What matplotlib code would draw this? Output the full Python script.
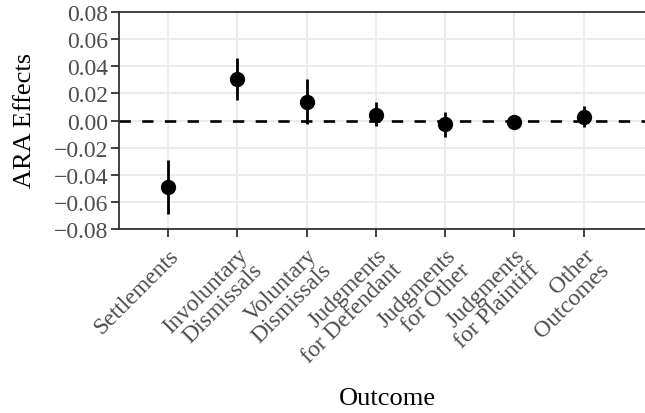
import matplotlib
matplotlib.use("Agg")
import matplotlib.pyplot as plt

plt.rcParams.update({"font.family": ["Liberation Serif", "DejaVu Serif"],
                     "axes.unicode_minus": True})

# ARA effect estimates by case outcome, with 95% intervals
OUTCOMES = ["Settlements", "Involuntary\nDismissals", "Voluntary\nDismissals",
            "Judgments\nfor Defendant", "Judgments\nfor Other",
            "Judgments\nfor Plaintiff", "Other\nOutcomes"]
EFFECT = [-0.0493, 0.0306, 0.0139, 0.0043, -0.0028, -0.0009, 0.0026]
LOWER = [-0.0690, 0.0154, -0.0026, -0.0043, -0.0120, -0.0030, -0.0050]
UPPER = [-0.0292, 0.0459, 0.0306, 0.0134, 0.0060, 0.0012, 0.0105]
YTICKS = [-0.08, -0.06, -0.04, -0.02, 0.00, 0.02, 0.04, 0.06, 0.08]

GRID = "#EBEBEB"
DARK = "#333333"
TXT = "#4D4D4D"

fig = plt.figure(figsize=(6.45, 4.14), dpi=100)
# panel runs off the right edge, as in the cropped original
ax = fig.add_axes([119 / 645, 1 - 230 / 414, 532 / 645, 217 / 414])

xs = list(range(1, len(OUTCOMES) + 1))
ax.axhline(0, color="black", lw=1.9, linestyle=(0, (4.3, 4.3)), zorder=2)
ax.vlines(xs, LOWER, UPPER, color="black", lw=2.0, zorder=3)
ax.plot(xs, EFFECT, "o", color="black", ms=10, zorder=4)

ax.set_xlim(0.293, 7.97)
ax.set_ylim(-0.08, 0.08)
ax.set_yticks(YTICKS)
ax.set_yticklabels([f"{v:.2f}".replace("-", "\u2212") for v in YTICKS])
ax.set_xticks(xs)
ax.set_xticklabels(OUTCOMES, rotation=45, ha="right", rotation_mode="anchor",
                   multialignment="right", linespacing=0.97)

ax.grid(True, color=GRID, lw=1.4, zorder=0)
ax.set_axisbelow(True)
for s in ax.spines.values():
    s.set_color(DARK)
    s.set_linewidth(1.3)
ax.tick_params(colors=DARK, labelcolor=TXT, labelsize=17, length=5.5, width=1.3, pad=2)
ax.tick_params(axis="x", pad=5.5)

ax.set_ylabel("ARA Effects", fontsize=19)
ax.yaxis.set_label_coords(-0.156, 0.505)
ax.set_xlabel("Outcome", fontsize=19)
ax.xaxis.set_label_coords(0.505, -0.73)

fig.savefig("out.png", dpi=100)
